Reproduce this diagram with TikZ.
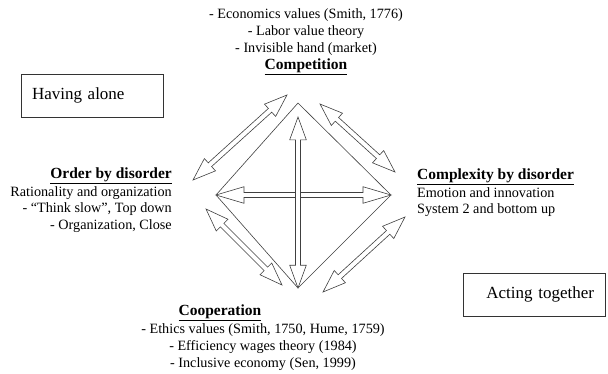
\documentclass[tikz,border=0pt]{standalone}
\usepackage{fontspec}
\setmainfont{Liberation Serif}
\usetikzlibrary{calc}
\usetikzlibrary{shapes.arrows}

\begin{document}
\begin{tikzpicture}[x=1pt, y=-1pt, box node/.style={shape=rectangle,draw=black!80,line width=0.8pt,font=\fontsize{17}{20}\selectfont,text width=120pt,minimum width=142pt,minimum height=43pt,inner sep=0}, txt node/.style={font=\fontsize{14.2}{16.7}\selectfont,inner sep=0}, head node/.style={font=\fontsize{15.5}{17}\selectfont\bfseries,inner sep=0}, arr node/.style={shape=double arrow,draw=black!75,fill=white,line width=0.6pt,inner sep=2.2pt,double arrow head extend=5.8pt,double arrow tip angle=40}, ]
		\useasboundingbox (0,0) rectangle (608,373);
		%diamond corners
		\coordinate (dtop) at (298,103);
		\coordinate (dright) at (391,195);
		\coordinate (dbottom) at (298,288);
		\coordinate (dleft) at (216,195);
		\draw[draw=black!75,line width=0.6pt] (dtop) -- (dright) -- (dbottom) -- (dleft) -- cycle;
		
		%arrow ends
		\coordinate (v1) at (298,117);
		\coordinate (ul1) at (193,180);
		\coordinate (ul2) at (287,95);
		\coordinate (ur1) at (320,104);
		\coordinate (ur2) at (395,172);
		\coordinate (ll1) at (206,209);
		\coordinate (ll2) at (282,285);
		\coordinate (lr1) at (323,292);
		\coordinate (lr2) at (405,217);
		
		%cross arrows
		\foreach \a/\b/\ang in {dleft/dright/33,v1/dbottom/40,ul1/ul2/40,ur1/ur2/40,ll1/ll2/40,lr1/lr2/40}
		{
			\path let \p1=($(\b)-(\a)$), \n1={atan2(\y1,\x1)}, \n2={veclen(\x1,\y1)} in node[arr node,double arrow tip angle=\ang,rotate=\n1,minimum height=\n2] (arr-\a) at ($(\a)!0.5!(\b)$) {};
		}
		
		%texts
		\node[txt node,align=center] (econ) at (306,32){- Economics values (Smith, 1776)\\- Labor value theory\\- Invisible hand (market)};
		\node[head node] (comp) at (306,67){\underline{Competition}};
		\node[head node,anchor=east] (order) at (172,176){\underline{Order by disorder}};
		\node[txt node,align=right,anchor=north east] (orderl) at (172,186){Rationality and organization\\- “Think slow”, Top down\\- Organization, Close};
		\node[head node,anchor=west] (compl) at (417,177){\underline{Complexity by disorder}};
		\node[txt node,align=left,anchor=north west] (compll) at (417,187){Emotion and innovation\\System 2 and bottom up};
		\node[head node] (coop) at (220,313){\underline{Cooperation}};
		\node[txt node,align=center] (ethics) at (263,347){- Ethics values (Smith, 1750, Hume, 1759)\\- Efficiency wages theory (1984)\\- Inclusive economy (Sen, 1999)};
		
		\node[box node,align=left] (alone) at (92,95.5){\raisebox{3pt}{Having alone}};
		\node[box node,align=right] (together) at (534,294.5){\raisebox{2pt}{Acting together}};
		
\end{tikzpicture}
\end{document}
